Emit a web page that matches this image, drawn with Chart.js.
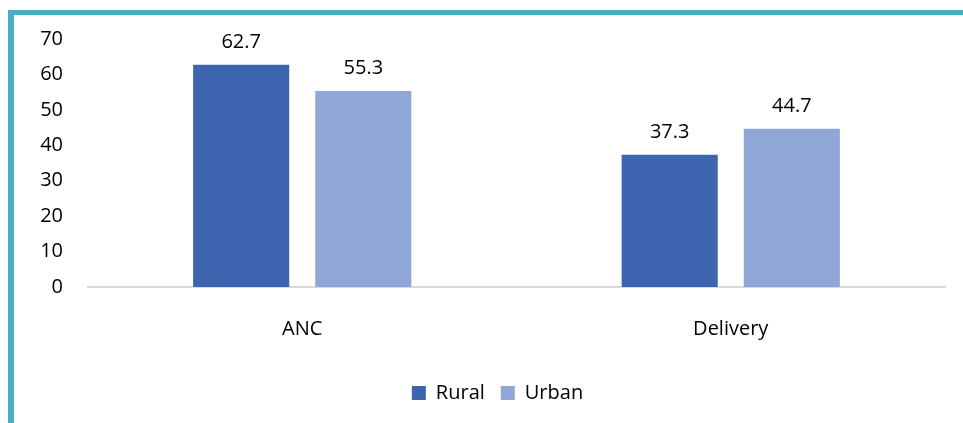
<!DOCTYPE html>
<html>
<head>
<meta charset="utf-8">
<script src="https://cdn.jsdelivr.net/npm/chart.js@4"></script>
<style>
  html, body { margin: 0; padding: 0; background: #fff; }
  #frame {
    position: absolute; left: 8px; top: 10px;
    width: 955px; height: 413px;
    border-top: 5px solid #4bacc6; border-left: 6px solid #4bacc6;
  }
  #wrap { position: absolute; left: 0; top: 0; width: 949px; height: 408px; }
</style>
</head>
<body>
<div id="frame"><div id="wrap"><canvas id="myChart"></canvas></div></div>
<script>
const categories = ["ANC", "Delivery"];
const ruralValues = [62.7, 37.3];
const urbanValues = [55.3, 44.7];
const yTicks = [0, 10, 20, 30, 40, 50, 60, 70];

const FONT = "Open Sans";
const FSIZE = 20;

// plugin vẽ nhãn giá trị trên cột
const valueLabels = {
  id: "valueLabels",
  afterDatasetsDraw(chart) {
    const ctx = chart.ctx;
    ctx.save();
    ctx.font = FSIZE + "px " + FONT;
    ctx.fillStyle = "#000";
    ctx.textAlign = "center";
    ctx.textBaseline = "alphabetic";
    chart.data.datasets.forEach((ds, i) => {
      chart.getDatasetMeta(i).data.forEach((bar, j) => {
        ctx.fillText(ds.data[j].toFixed(1), bar.x, bar.y - 17);
      });
    });
    ctx.restore();
  }
};

// dời chú thích sang phải cho khớp tâm vùng vẽ
const legendShift = {
  id: "legendShift",
  afterLayout(chart) {
    if (chart.legend) {
      chart.legend.left += 36;
      chart.legend.right += 0;
    }
  }
};

const config = {
  type: "bar",
  data: {
    labels: categories,
    datasets: [
      { label: "Rural", data: ruralValues, backgroundColor: "#3d64ae", categoryPercentage: 0.57, barPercentage: 0.787 },
      { label: "Urban", data: urbanValues, backgroundColor: "#8fa6d6", categoryPercentage: 0.57, barPercentage: 0.787 },
    ],
  },
  options: {
    responsive: true,
    maintainAspectRatio: false,
    animation: false,
    layout: { padding: { top: 24, right: 18, left: 0, bottom: 10 } },
    plugins: {
      legend: {
        position: "bottom",
        labels: { font: { family: FONT, size: FSIZE }, color: "#000", boxWidth: 14, boxHeight: 14, padding: 16 },
      },
      tooltip: { enabled: false },
    },
    scales: {
      x: {
        grid: { display: false, drawTicks: false },
        border: { display: true, color: "#d9d9d9", width: 2 },
        ticks: { font: { family: FONT, size: FSIZE }, color: "#000", padding: 30 },
        afterFit(scale) { scale.height = 80; scale.paddingTop = 0; scale.paddingBottom = 0; },
      },
      y: {
        min: 0, max: 70,
        afterBuildTicks(scale) { scale.ticks = yTicks.map((v) => ({ value: v })); },
        grid: { display: false, drawTicks: false },
        border: { display: false },
        ticks: { font: { family: FONT, size: FSIZE }, color: "#000", padding: 25 },
        afterFit(scale) { scale.width = 74; scale.paddingTop = 0; scale.paddingBottom = 0; },
      },
    },
  },
  plugins: [valueLabels, legendShift],
};

new Chart(document.getElementById("myChart"), config);
</script>
</body>
</html>
